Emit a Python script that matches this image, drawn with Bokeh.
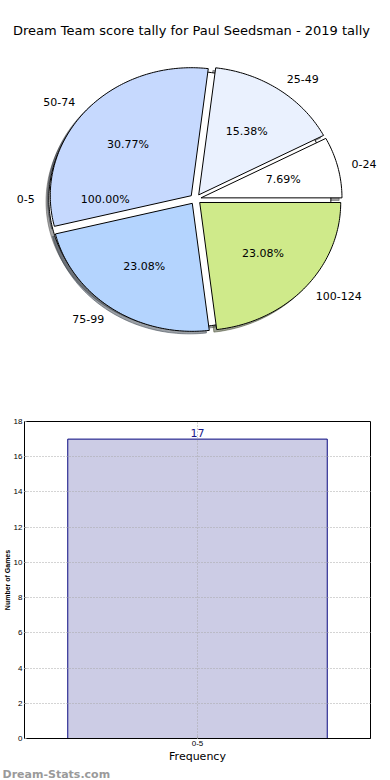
import numpy as np
from bokeh.plotting import figure
from bokeh.layouts import column
from bokeh.models import ColumnDataSource, Range1d, FactorRange, LabelSet, Title, FixedTicker
from bokeh.core.properties import value
from bokeh.embed import file_html
from bokeh.resources import INLINE

# ---------------- data ----------------
title_text = "Dream Team score tally for Paul Seedsman - 2019 tally"
pie_categories = ["0-24", "25-49", "50-74", "75-99", "100-124"]
pie_counts = [1, 2, 4, 3, 3]
pie_colors = ["#ffffff", "#eaf1fe", "#c6d9fe", "#b4d4fe", "#cfea8a"]
base_category = ["0-5"]
base_counts = [17]
base_colors = ["#ffffff"]
bar_categories = ["0-5"]
bar_values = [17]
y_ticks = [0, 2, 4, 6, 8, 10, 12, 14, 16, 18]
watermark = "Dream-Stats.com"

# ---------------- pie geometry (matplotlib-like) ----------------
EXPLODE = 0.04
SHADOW = (-0.02, -0.02)
LABEL_DIST = 1.1
PCT_DIST = 0.6


def pie_parts(counts, cats):
    total = float(sum(counts))
    t = 0.0
    parts = []
    for c, name in zip(counts, cats):
        frac = c / total
        t1, t2 = t, t + frac * 2 * np.pi
        mid = 0.5 * (t1 + t2)
        ox, oy = EXPLODE * np.cos(mid), EXPLODE * np.sin(mid)
        n = max(int(frac * 360), 3)
        th = np.linspace(t1, t2, n)
        xs = ox + np.cos(th)
        ys = oy + np.sin(th)
        if frac < 0.999:
            xs = np.concatenate([[ox], xs, [ox]])
            ys = np.concatenate([[oy], ys, [oy]])
        parts.append(dict(xs=list(xs), ys=list(ys), mid=mid, ox=ox, oy=oy,
                          name=name, pct="%.2f%%" % (100 * frac)))
        t = t2
    return parts


base_parts = pie_parts(base_counts, base_category)
main_parts = pie_parts(pie_counts, pie_categories)


def shade(hexcol):
    h = hexcol.lstrip("#")
    r, g, b = (int(h[i:i + 2], 16) for i in (0, 2, 4))
    return "#%02x%02x%02x" % (int(r * 0.3), int(g * 0.3), int(b * 0.3))


SX, SY = 141.0, 128.0          # px per unit radius (pie is drawn slightly elliptical)
CX, CY = 195.0, 198.6          # pie centre, px from the figure's top-left
W1, H1 = 382, 388
TOP_BORDER = 42
FW, FH = W1, H1 - TOP_BORDER

p1 = figure(width=W1, height=H1, output_backend="svg", toolbar_location=None,
            min_border_left=0, min_border_right=0, min_border_bottom=0,
            min_border_top=TOP_BORDER, title=title_text, frame_align=False,
            x_axis_location=None, y_axis_location=None,
            x_range=Range1d(-CX / SX, (FW - CX) / SX),
            y_range=Range1d(-(TOP_BORDER + FH - CY) / SY, (CY - TOP_BORDER) / SY))
p1.title.align = "center"
p1.title.text_font = "DejaVu Sans"
p1.title.text_font_size = "13px"
p1.title.text_font_style = "normal"
p1.title.text_color = "black"
p1.grid.visible = False
p1.outline_line_color = None

all_parts = [(bp, c) for bp, c in zip(base_parts, base_colors)] + \
            [(mp, c) for mp, c in zip(main_parts, pie_colors)]

shadow_src = ColumnDataSource(dict(
    xs=[[x + SHADOW[0] for x in part["xs"]] for part, _ in all_parts],
    ys=[[y + SHADOW[1] for y in part["ys"]] for part, _ in all_parts],
    color=[shade(c) for _, c in all_parts]))
p1.patches("xs", "ys", source=shadow_src, fill_color="color", line_color="color",
           fill_alpha=0.5, line_alpha=0.5, line_width=1)

wedge_src = ColumnDataSource(dict(
    xs=[part["xs"] for part, _ in all_parts],
    ys=[part["ys"] for part, _ in all_parts],
    color=[c for _, c in all_parts]))
p1.patches("xs", "ys", source=wedge_src, fill_color="color", line_color="black",
           line_width=1)

lab = dict(x=[], y=[], text=[], align=[])
for part, _ in all_parts:
    m = part["mid"]
    lab["x"].append(part["ox"] + LABEL_DIST * np.cos(m))
    lab["y"].append(part["oy"] + LABEL_DIST * np.sin(m))
    lab["text"].append(part["name"])
    lab["align"].append("left" if np.cos(m) > 0 else "right")
    lab["x"].append(part["ox"] + PCT_DIST * np.cos(m))
    lab["y"].append(part["oy"] + PCT_DIST * np.sin(m))
    lab["text"].append(part["pct"])
    lab["align"].append("center")
p1.text("x", "y", text="text", text_align="align", source=ColumnDataSource(lab),
        text_baseline="middle", text_font=value("DejaVu Sans"), text_font_size="11px",
        text_color="black")

# ---------------- bar chart ----------------
p2 = figure(width=382, height=392, output_backend="svg", toolbar_location=None,
            x_range=FactorRange(*bar_categories, range_padding=0),
            y_range=Range1d(0, 18), frame_align=False,
            min_border_left=0, min_border_right=12, min_border_top=33, min_border_bottom=0)
bar_src = ColumnDataSource(dict(cat=bar_categories, val=bar_values,
                                lbl=[str(v) for v in bar_values]))
p2.vbar(x="cat", top="val", width=0.75, source=bar_src, fill_color="#cccce5",
        line_color="#0a0a80", line_width=1)
p2.add_layout(LabelSet(x="cat", y="val", text="lbl", source=bar_src, y_offset=2,
                       text_align="center", text_baseline="bottom",
                       text_font=value("DejaVu Sans"), text_font_size="11px",
                       text_color="#1a1a8a"))
p2.outline_line_color = "black"
p2.outline_line_width = 1
p2.yaxis.ticker = FixedTicker(ticks=y_ticks)
for ax in (p2.xaxis[0], p2.yaxis[0]):
    ax.axis_line_color = "black"
    ax.major_tick_in = 2
    ax.major_tick_out = 0
    ax.minor_tick_line_color = None
    ax.major_tick_line_color = "#999999"
    ax.major_label_text_font = "Liberation Sans"
    ax.major_label_text_font_size = "8px"
    ax.major_label_text_color = "black"
    ax.major_label_standoff = 2
p2.xaxis.axis_label = "Frequency"
p2.xaxis.axis_label_text_font = "DejaVu Sans"
p2.xaxis.axis_label_text_font_size = "11px"
p2.xaxis.axis_label_text_font_style = "normal"
p2.xaxis.axis_label_text_color = "black"
p2.xaxis.axis_label_standoff = 1
p2.yaxis.axis_label = "Number of Games"
p2.yaxis.axis_label_text_font = "Liberation Sans"
p2.yaxis.axis_label_text_font_size = "7px"
p2.yaxis.axis_label_text_font_style = "bold"
p2.yaxis.axis_label_text_color = "black"
p2.yaxis.axis_label_standoff = 0
for g in (p2.xgrid[0], p2.ygrid[0]):
    g.grid_line_color = "#a8a8a8"
    g.grid_line_dash = "1 2"
    g.grid_line_width = 1
    g.level = "overlay"
p2.ygrid.ticker = FixedTicker(ticks=y_ticks[1:-1])
p2.add_layout(Title(text=watermark, align="left", text_color="#9a9a9a",
                    text_font="DejaVu Sans", text_font_size="11px",
                    text_font_style="bold", offset=-22, standoff=0), "below")

layout = column(p1, p2, spacing=0)
open("out.html", "w").write(file_html(layout, INLINE))
